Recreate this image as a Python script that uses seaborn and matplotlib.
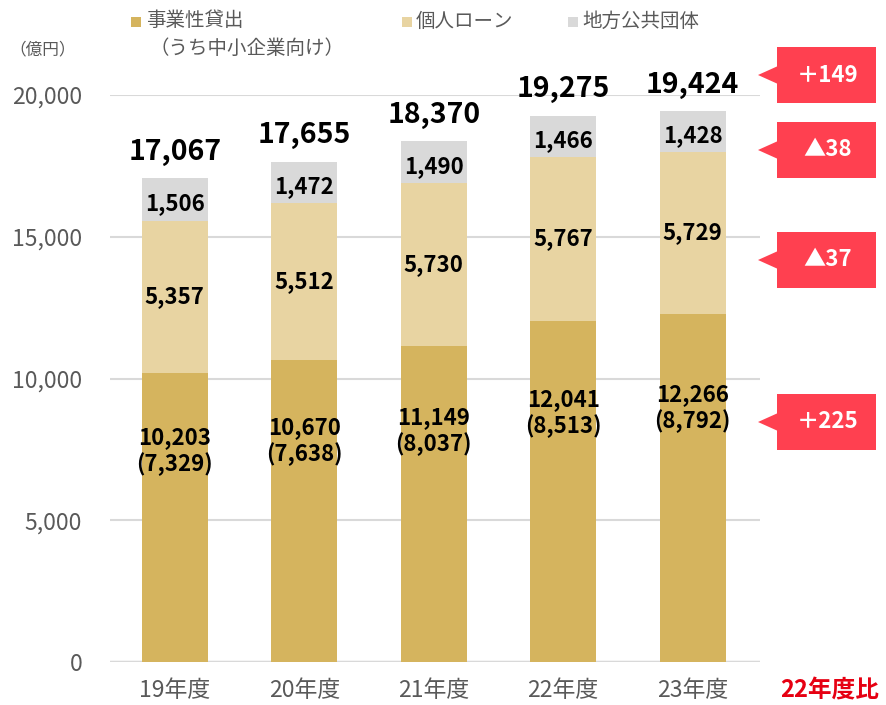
import numpy as np
import pandas as pd
import matplotlib
matplotlib.use("Agg")
import matplotlib.pyplot as plt
import matplotlib.patches as patches
import seaborn as sns

# data
years = ["19年度", "20年度", "21年度", "22年度", "23年度"]
business = [10203, 10670, 11149, 12041, 12266]
sme = [7329, 7638, 8037, 8513, 8792]
personal = [5357, 5512, 5730, 5767, 5729]
local_gov = [1506, 1472, 1490, 1466, 1428]
totals = [17067, 17655, 18370, 19275, 19424]
diff_labels = ["＋149", "▲38", "▲37", "＋225"]
legend_labels = ["事業性貸出", "個人ローン", "地方公共団体"]

c_bus = "#D5B45E"
c_per = "#E8D4A2"
c_loc = "#D9D9D9"
c_red = "#FF4050"
c_txt = "#595959"

sns.set_theme(style="white")
plt.rcParams['font.family'] = ['Noto Sans CJK JP', 'DejaVu Sans']

W, H = 887, 705
fig = plt.figure(figsize=(W / 100, H / 100), dpi=100)
ax = fig.add_axes([110 / W, 1 - 662 / H, 650 / W, 567 / H])


def fx(x):
    return x / W


def fy(y):
    return 1 - y / H


df = pd.DataFrame({"year": years, "business": business, "personal": personal, "local": local_gov})
df["cum2"] = df["business"] + df["personal"]
df["cum3"] = df["cum2"] + df["local"]

# stacked via layered bars
sns.barplot(data=df, x="year", y="cum3", color=c_loc, saturation=1, width=0.51, linewidth=0, ax=ax, zorder=2)
sns.barplot(data=df, x="year", y="cum2", color=c_per, saturation=1, width=0.51, linewidth=0, ax=ax, zorder=3)
sns.barplot(data=df, x="year", y="business", color=c_bus, saturation=1, width=0.51, linewidth=0, ax=ax, zorder=4)

ax.set_xlim(-0.5, 4.52)
ax.set_ylim(0, 20000)
ax.set_yticks([0, 5000, 10000, 15000, 20000])
ax.set_yticklabels(["{:,}".format(v) for v in [0, 5000, 10000, 15000, 20000]])
ax.yaxis.grid(True, color="#D9D9D9", linewidth=1.5, zorder=0)
ax.set_axisbelow(True)
for s in ax.spines.values():
    s.set_visible(False)
ax.axhline(0, color="#D9D9D9", linewidth=2.5, zorder=1)
ax.set_xlabel("")
ax.set_ylabel("")
ax.tick_params(axis="y", labelsize=16.5, colors=c_txt, length=0, pad=20)
ax.tick_params(axis="x", labelsize=16.5, colors=c_txt, length=0, pad=12)

for i in range(len(years)):
    b = business[i]
    p = personal[i]
    l = local_gov[i]
    ax.text(i, b * 0.73, "{:,}\n({:,})".format(b, sme[i]), ha="center", va="center",
            fontsize=16, fontweight="bold", color="black", linespacing=1.15, zorder=6)
    ax.text(i, b + p / 2, "{:,}".format(p), ha="center", va="center",
            fontsize=16, fontweight="bold", color="black", zorder=6)
    ax.text(i, b + p + l / 2 - 150, "{:,}".format(l), ha="center", va="center",
            fontsize=16, fontweight="bold", color="black", zorder=6)
    ax.annotate("{:,}".format(totals[i]), (i, b + p + l), xytext=(0, 9), textcoords="offset points",
                ha="center", va="bottom", fontsize=20.5, fontweight="bold", color="black",
                annotation_clip=False, zorder=6)

# legend
leg_pos = [(131, 142), (402, 412), (568, 578)]
for (sx, tx), lab, col in zip(leg_pos, legend_labels, [c_bus, c_per, c_loc]):
    fig.patches.append(patches.Rectangle((fx(sx), fy(27)), 10 / W, 10 / H, transform=fig.transFigure,
                                         facecolor=col, edgecolor="none"))
    fig.text(fx(tx + 4), fy(21), lab, fontsize=14, color=c_txt, ha="left", va="center")
fig.text(fx(150), fy(48), "（うち中小企業向け）", fontsize=14, color=c_txt, ha="left", va="center")
fig.text(fx(43), fy(50), "（億円）", fontsize=12, color=c_txt, ha="center", va="center")

# callouts
callout_y = [75, 150, 260, 422]
for cy, lab in zip(callout_y, diff_labels):
    fig.patches.append(patches.Rectangle((fx(777), fy(cy + 28)), 99 / W, 56 / H, transform=fig.transFigure,
                                         facecolor=c_red, edgecolor="none"))
    fig.patches.append(patches.Polygon([(fx(758), fy(cy)), (fx(778), fy(cy - 9)), (fx(778), fy(cy + 9))],
                                       closed=True, transform=fig.transFigure, facecolor=c_red, edgecolor="none"))
    fig.text(fx(828), fy(cy), lab, fontsize=16, fontweight="bold", color="white", ha="center", va="center")

fig.text(fx(830), fy(690), "22年度比", fontsize=17, fontweight="bold", color="#E60012", ha="center", va="center")

fig.savefig("out.png", dpi=100)
